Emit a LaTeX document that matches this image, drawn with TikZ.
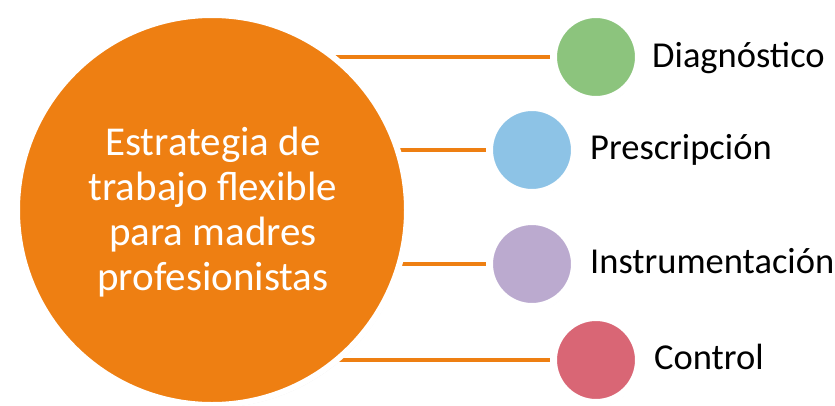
\documentclass[tikz,border=0pt]{standalone}
\usepackage{fontspec}
\setmainfont{Carlito}
\usetikzlibrary{shadows,backgrounds}
\definecolor{orangemain}{HTML}{EE7F12}
\definecolor{cgreen}{HTML}{8CC47D}
\definecolor{cblue}{HTML}{8DC3E6}
\definecolor{cpurple}{HTML}{BBAACF}
\definecolor{cred}{HTML}{D96675}
\begin{document}
\begin{tikzpicture}[x=1pt,y=-1pt,
  ringed/.style={circle,draw=white,inner sep=0pt,
    drop shadow={opacity=0.18,shadow xshift=1.5pt,shadow yshift=-2.5pt}},
  bigc/.style={ringed,line width=6pt,fill=orangemain,minimum size=390pt},
  smallc/.style={ringed,line width=7pt,minimum size=85pt},
  label/.style={anchor=base west,font=\fontsize{36.5}{44}\selectfont,text=black,inner sep=0pt},
  link/.style={draw=orangemain,line width=4.5pt},
  maintext/.style={align=center,font=\fontsize{41}{45}\selectfont,inner sep=0pt}
  ]
\useasboundingbox (0,0) rectangle (835,405);
\node[bigc] (big) at (212,210) {};
\node[maintext,text=white] (title) at (213,212) {Estrategia de\\trabajo flexible\\para madres\\profesionistas};
\node[smallc,fill=cgreen] (g) at (596,57) {};
\node[smallc,fill=cblue] (b) at (532,150) {};
\node[smallc,fill=cpurple] (p) at (532,264) {};
\node[smallc,fill=cred] (r) at (596,360) {};
\node[label] (lg) at (652,67) {Diagnóstico};
\node[label] (lb) at (590,159) {Prescripción};
\node[label] (lp) at (590,273) {Instrumentación};
\node[label] (lr) at (654,369) {Control};
\begin{scope}[on background layer]
\draw[link] (big.center |- g.center) -- (g.center);
\draw[link] (big.center |- b.center) -- (b.center);
\draw[link] (big.center |- p.center) -- (p.center);
\draw[link] (big.center |- r.center) -- (r.center);
\end{scope}
\end{tikzpicture}
\end{document}
